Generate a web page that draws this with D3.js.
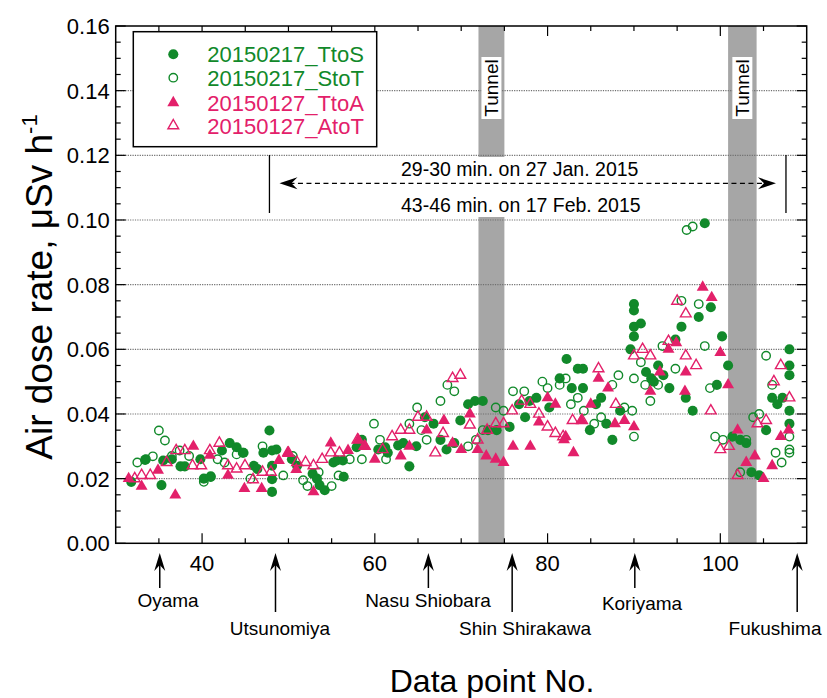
<!DOCTYPE html>
<html><head><meta charset="utf-8">
<script src="https://cdn.jsdelivr.net/npm/d3@7"></script>
<style>body{margin:0;background:#fff}svg{display:block;font-family:"Liberation Sans",Arial,sans-serif}</style>
</head><body>
<svg id="c" width="827" height="698"></svg>
<script>
// ---- data ----
const seriesNames = ["20150217_TtoS","20150217_StoT","20150127_TtoA","20150127_AtoT"];
const ttos = [[31.8,0.019],[33.4,0.0258],[35.3,0.018],[35.5,0.0256],[36.5,0.026],[37.5,0.0238],[38.0,0.0238],[39.8,0.026],[40.2,0.020],[41.0,0.0207],[42.3,0.0287],[43.2,0.031],[44.0,0.0297],[44.8,0.028],[46.0,0.024],[46.4,0.023],[47.1,0.028],[47.8,0.0349],[48.1,0.0159],[48.1,0.0287],[48.6,0.029],[48.1,0.024],[48.1,0.0198],[50.4,0.026],[51.0,0.024],[52.8,0.0215],[53.3,0.020],[53.6,0.018],[54.2,0.0164],[55.2,0.025],[55.6,0.0256],[56.3,0.0256],[56.4,0.0206],[57.9,0.0297],[58.5,0.032],[60.4,0.029],[61.2,0.0297],[61.5,0.028],[62.7,0.0303],[63.3,0.031],[64.0,0.0238],[64.8,0.030],[65.8,0.039],[66.8,0.037],[67.6,0.032],[68.3,0.029],[69.2,0.031],[69.9,0.038],[70.8,0.043],[71.6,0.044],[72.5,0.044],[73.1,0.035],[74.1,0.035],[75.6,0.036],[76.7,0.043],[77.4,0.039],[77.9,0.044],[78.7,0.045],[80.2,0.042],[81.4,0.051],[82.2,0.057],[82.8,0.048],[83.5,0.054],[84.1,0.048],[84.1,0.054],[84.9,0.035],[85.6,0.043],[86.2,0.045],[86.8,0.037],[87.5,0.032],[88.4,0.041],[89.6,0.060],[90.0,0.074],[90.0,0.072],[90.0,0.067],[90.8,0.068],[90.0,0.064],[91.4,0.053],[92.0,0.051],[92.3,0.050],[92.8,0.055],[93.4,0.052],[94.1,0.048],[94.8,0.063],[95.5,0.067],[96.0,0.045],[96.8,0.041],[97.5,0.070],[98.2,0.099],[98.9,0.073],[99.6,0.049],[100.2,0.064],[100.9,0.055],[101.4,0.033],[102.3,0.032],[103.0,0.031],[103.6,0.022],[104.5,0.021],[105.3,0.035],[106.0,0.045],[106.6,0.043],[107.2,0.045],[108.0,0.060],[108.0,0.055],[108.0,0.052],[108.0,0.041],[108.0,0.037]];
const stot = [[32.5,0.025],[33.5,0.026],[34.3,0.0269],[35.0,0.0349],[35.7,0.0318],[36.5,0.027],[37.4,0.0287],[38.5,0.027],[40.2,0.019],[41.0,0.0205],[41.8,0.026],[42.6,0.025],[44.0,0.0275],[44.7,0.028],[45.6,0.020],[47.0,0.030],[49.4,0.021],[50.5,0.027],[51.7,0.0195],[52.2,0.0177],[53.5,0.022],[55.0,0.0177],[55.8,0.021],[57.1,0.026],[58.5,0.026],[59.9,0.037],[60.6,0.032],[61.3,0.026],[64.0,0.037],[64.9,0.042],[65.4,0.035],[66.0,0.032],[67.6,0.044],[68.4,0.049],[69.2,0.047],[70.8,0.030],[71.7,0.032],[72.5,0.035],[74.0,0.042],[74.9,0.041],[76.0,0.047],[77.3,0.047],[79.4,0.050],[80.0,0.048],[81.4,0.049],[82.1,0.051],[82.7,0.043],[83.5,0.045],[84.2,0.041],[85.4,0.037],[86.2,0.039],[87.5,0.049],[88.2,0.052],[88.9,0.042],[89.8,0.041],[90.0,0.051],[90.0,0.033],[90.8,0.056],[91.3,0.049],[91.9,0.044],[92.8,0.049],[93.3,0.061],[94.8,0.054],[95.5,0.075],[96.1,0.0969],[96.8,0.098],[97.5,0.074],[98.2,0.061],[98.8,0.048],[99.4,0.033],[100.3,0.032],[102.3,0.022],[103.0,0.032],[103.8,0.039],[104.5,0.040],[105.3,0.058],[106.0,0.049],[106.4,0.028],[107.1,0.025],[108.0,0.033],[108.0,0.029],[108.0,0.028]];
const ttoa = [[31.5,0.020],[33.0,0.0176],[34.9,0.0226],[36.9,0.0149],[38.99,0.030],[40.9,0.0272],[43.0,0.021],[44.9,0.0169],[46.9,0.0169],[48.9,0.0256],[49.9,0.028],[50.9,0.0228],[52.9,0.0159],[54.9,0.031],[56.9,0.0287],[58.1,0.032],[58.9,0.030],[60.0,0.026],[63.0,0.027],[64.0,0.030],[66.0,0.035],[68.0,0.038],[69.0,0.031],[70.0,0.029],[71.0,0.040],[71.9,0.029],[72.9,0.027],[74.0,0.026],[74.9,0.025],[76.0,0.030],[78.0,0.030],[79.0,0.0375],[80.0,0.045],[80.9,0.043],[81.9,0.032],[82.1,0.033],[83.0,0.028],[83.9,0.038],[85.0,0.043],[85.9,0.051],[87.0,0.048],[87.8,0.037],[88.9,0.038],[90.0,0.036],[91.9,0.047],[93.0,0.053],[94.0,0.060],[94.9,0.062],[95.9,0.047],[96.0,0.053],[97.96,0.0792],[99.0,0.076],[100.0,0.059],[100.9,0.049],[102.0,0.035],[103.0,0.025],[104.0,0.027],[105.0,0.020],[106.0,0.024],[107.0,0.033],[107.9,0.035]];
const atot = [[32.2,0.020],[33.0,0.021],[34.0,0.021],[35.9,0.025],[37.0,0.0287],[38.0,0.0287],[38.9,0.024],[39.9,0.024],[40.9,0.0287],[42.0,0.031],[43.0,0.024],[44.0,0.023],[44.97,0.024],[45.9,0.0197],[47.0,0.022],[47.97,0.022],[50.0,0.0279],[51.0,0.025],[51.98,0.025],[52.9,0.024],[53.9,0.026],[54.9,0.028],[55.9,0.028],[58.0,0.032],[58.8,0.030],[60.9,0.029],[62.0,0.033],[63.0,0.035],[64.0,0.035],[65.0,0.039],[66.0,0.039],[67.0,0.028],[67.9,0.034],[69.0,0.051],[69.9,0.052],[71.0,0.0366],[71.9,0.032],[73.0,0.035],[74.0,0.037],[74.9,0.037],[75.9,0.041],[77.0,0.044],[78.0,0.043],[79.0,0.040],[80.0,0.036],[80.9,0.034],[81.8,0.033],[82.9,0.038],[84.0,0.038],[85.9,0.054],[87.9,0.043],[90.0,0.058],[91.0,0.060],[91.9,0.058],[94.0,0.0625],[95.0,0.0749],[96.0,0.071],[96.0,0.058],[97.2,0.055],[98.9,0.041],[100.0,0.029],[101.0,0.030],[102.0,0.021],[104.3,0.037],[105.3,0.038],[106.2,0.050],[107.0,0.055],[108.0,0.045]];
const tunnels = [[72,75],[100.9,104.2]];
const stations = [["Oyama",35.1,0],["Utsunomiya",48.5,1],["Nasu Shiobara",66.2,0],["Shin Shirakawa",75.9,1],["Koriyama",90.1,0],["Fukushima",108.9,1]];
const xTicks = [40,60,80,100];
const yTicks = [0,0.02,0.04,0.06,0.08,0.10,0.12,0.14,0.16];
const annoText = ["29-30 min. on 27 Jan. 2015","43-46 min. on 17 Feb. 2015"];
const annoRange = [47.8,107.6];

// ---- drawing ----
const GREEN="#11892a", PINK="#e3206a";
const svg=d3.select("#c");
const L=115.7,R=806.7,T=26,B=543.3;
const x=d3.scaleLinear().domain([30,110]).range([L,R]);
const y=d3.scaleLinear().domain([0,0.16]).range([B,T]);

// tunnels
svg.selectAll("rect.tun").data(tunnels).join("rect")
  .attr("x",d=>x(d[0])).attr("width",d=>x(d[1])-x(d[0]))
  .attr("y",T).attr("height",B-T).attr("fill","#a6a6a6");
// grid
svg.selectAll("line.grid").data(yTicks.slice(1,-1)).join("line")
  .attr("x1",L).attr("x2",R).attr("y1",d=>y(d)).attr("y2",d=>y(d))
  .attr("stroke","#707070").attr("stroke-width",1.2).attr("stroke-dasharray","1.2,1.2");
// annotation white box
svg.append("rect").attr("x",395).attr("y",157).attr("width",250).attr("height",60).attr("fill","#fff");
// tunnel labels
tunnels.forEach(t=>{
  const cx=(x(t[0])+x(t[1]))/2;
  svg.append("rect").attr("x",cx-10).attr("y",57).attr("width",20).attr("height",62).attr("fill","#fff");
  svg.append("text").attr("transform",`translate(${cx+7},88) rotate(-90)`).attr("text-anchor","middle")
    .attr("font-size",19).text("Tunnel");
});
// annotation
svg.append("text").attr("x",401).attr("y",176).attr("font-size",19.5).text(annoText[0]);
svg.append("text").attr("x",401).attr("y",212).attr("font-size",19.5).text(annoText[1]);
[annoRange[0],annoRange[1]].forEach(v=>{
  svg.append("line").attr("x1",x(v)).attr("x2",x(v)).attr("y1",155).attr("y2",213).attr("stroke","#000").attr("stroke-width",1.3);
});
const ay=183.3, ax1=x(annoRange[0])+10, ax2=x(annoRange[1])-10;
svg.append("line").attr("x1",ax1+10).attr("x2",ax2-10).attr("y1",ay).attr("y2",ay)
  .attr("stroke","#000").attr("stroke-width",1.3).attr("stroke-dasharray","5,3.5");
svg.append("path").attr("d",`M${ax1},${ay} L${ax1+18},${ay-6} L${ax1+12},${ay} L${ax1+18},${ay+6}Z`);
svg.append("path").attr("d",`M${ax2},${ay} L${ax2-18},${ay-6} L${ax2-12},${ay} L${ax2-18},${ay+6}Z`);

// points
const circ=d3.symbol().type(d3.symbolCircle);
const tri=d3.symbol().type(d3.symbolTriangle);
function plot(data,gen,size,fill,stroke){
  svg.append("g").selectAll("path").data(data).join("path")
    .attr("transform",d=>`translate(${x(d[0])},${y(d[1])})`)
    .attr("d",gen.size(size)())
    .attr("fill",fill).attr("stroke",stroke).attr("stroke-width",stroke==="none"?0:1.4);
}
plot(ttos,circ,80,GREEN,"none");
plot(stot,circ,56,"none",GREEN);
plot(ttoa,tri,62,PINK,"none");
plot(atot,tri,50,"none",PINK);

// frame
svg.append("rect").attr("x",L).attr("y",T).attr("width",R-L).attr("height",B-T)
  .attr("fill","none").attr("stroke","#000").attr("stroke-width",1.5);
// ticks y
const yMinor=d3.range(0,0.1601,0.005);
yMinor.forEach(v=>{
  const major=Math.abs(v/0.02-Math.round(v/0.02))<1e-6;
  const len=major?10:5;
  svg.append("line").attr("x1",L).attr("x2",L+len).attr("y1",y(v)).attr("y2",y(v)).attr("stroke","#000").attr("stroke-width",1.2);
  svg.append("line").attr("x1",R).attr("x2",R-len).attr("y1",y(v)).attr("y2",y(v)).attr("stroke","#000").attr("stroke-width",1.2);
});
d3.range(35,110,5).forEach(v=>{
  const major=v%20===0;const len=major?10:5;
  svg.append("line").attr("x1",x(v)).attr("x2",x(v)).attr("y1",B).attr("y2",B-len).attr("stroke","#000").attr("stroke-width",1.2);
  svg.append("line").attr("x1",x(v)).attr("x2",x(v)).attr("y1",T).attr("y2",T+len).attr("stroke","#000").attr("stroke-width",1.2);
});
svg.selectAll("text.yt").data(yTicks).join("text").attr("x",L-6).attr("y",d=>y(d)+8)
  .attr("text-anchor","end").attr("font-size",22).text(d=>d.toFixed(2));
svg.selectAll("text.xt").data(xTicks).join("text").attr("x",d=>x(d)).attr("y",B+28)
  .attr("text-anchor","middle").attr("font-size",22).text(d=>d);
// axis titles
const yt=svg.append("text").attr("transform","translate(52,287) rotate(-90)").attr("text-anchor","middle").attr("font-size",37);
yt.append("tspan").text("Air dose rate, μSv h");
yt.append("tspan").attr("font-size",22).attr("dy",-15).text("-1");
svg.append("text").attr("x",492).attr("y",692).attr("text-anchor","middle").attr("font-size",32).text("Data point No.");

// stations
stations.forEach(s=>{
  const sx=x(s[1]), tip=553, end=s[2]?612:588;
  svg.append("line").attr("x1",sx).attr("x2",sx).attr("y1",tip+8).attr("y2",end).attr("stroke","#000").attr("stroke-width",1.5);
  svg.append("path").attr("d",`M${sx},${tip} L${sx-5.5},${tip+18} L${sx},${tip+12} L${sx+5.5},${tip+18}Z`);
});
const labelPos={"Oyama":[168,607],"Utsunomiya":[280,635],"Nasu Shiobara":[428,607],"Shin Shirakawa":[525,635],"Koriyama":[642,610],"Fukushima":[775,635]};
stations.forEach(s=>{
  const p=labelPos[s[0]];
  svg.append("text").attr("x",p[0]).attr("y",p[1]).attr("text-anchor","middle").attr("font-size",19).text(s[0]);
});

// legend
svg.append("rect").attr("x",133.3).attr("y",31.7).attr("width",243.4).attr("height",115).attr("fill","#fff").attr("stroke","#000").attr("stroke-width",1.5);
const legRows=[54.3,77.7,102.7,125.7];
const legSpec=[[circ,80,GREEN,"none"],[circ,56,"none",GREEN],[tri,62,PINK,"none"],[tri,50,"none",PINK]];
seriesNames.forEach((n,i)=>{
  const sp=legSpec[i];
  svg.append("path").attr("transform",`translate(173.3,${legRows[i]})`).attr("d",sp[0].size(sp[1])())
    .attr("fill",sp[2]).attr("stroke",sp[3]).attr("stroke-width",sp[3]==="none"?0:1.4);
  svg.append("text").attr("x",207.3).attr("y",legRows[i]+8).attr("font-size",22)
    .attr("fill",i<2?GREEN:PINK).text(n);
});
</script>
</body></html>
